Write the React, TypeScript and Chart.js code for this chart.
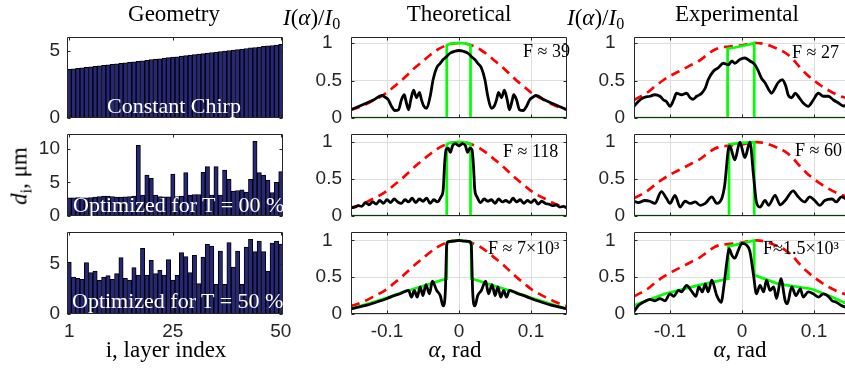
import React, { useEffect, useRef } from 'react';
import { Chart, registerables } from 'chart.js';

Chart.register(...registerables);

// ---------------- data ----------------
const layerIndex = [1,2,3,4,5,6,7,8,9,10,11,12,13,14,15,16,17,18,19,20,21,22,23,24,25,26,27,28,29,30,31,32,33,34,35,36,37,38,39,40,41,42,43,44,45,46,47,48,49,50];
const layerTicks = [1, 25, 50];

const dChirp = [3.60,3.64,3.68,3.71,3.75,3.79,3.83,3.86,3.90,3.94,3.98,4.02,4.05,4.09,4.13,4.17,4.20,4.24,4.28,4.32,4.36,4.39,4.43,4.47,4.51,4.54,4.58,4.62,4.66,4.69,4.73,4.77,4.81,4.85,4.88,4.92,4.96,5.00,5.03,5.07,5.11,5.15,5.19,5.22,5.26,5.30,5.34,5.37,5.41,5.45];
const dT00 = [2.7,2.7,2.75,2.7,2.7,2.75,2.8,2.9,2.95,2.95,2.9,2.8,2.8,2.85,2.9,2.95,10.5,3.1,6.1,5.6,3.1,2.9,2.85,2.85,6.25,2.9,2.95,6.45,3.1,3.2,3.2,6.5,7.35,3.1,7.35,3.1,6.85,5.45,3.7,3.8,3.9,3.55,5.45,11.1,6.45,6.1,5.35,3.5,5.0,6.6];
const dT50 = [5.2,3.7,3.57,3.47,5.13,4.13,4.3,3.37,3.7,3.83,3.47,4.03,5.63,3.57,3.4,4.63,3.9,6.57,3.9,5.37,4.03,4.37,3.9,5.43,3.4,3.87,6.13,5.73,4.13,5.87,3.03,5.7,6.97,6.8,2.97,6.3,2.97,7.13,4.7,6.3,2.97,6.7,7.47,6.23,7.3,6.23,4.3,7.1,7.3,7.0];

const chirpTicks = [0, 5];
const t00Ticks = [0, 5, 10];
const t50Ticks = [0, 5];

const alphaTicks = [-0.1, 0, 0.1];
const intensityTicks = [0, 0.5, 1];

const alphaRed = [-0.15,-0.14,-0.13,-0.12,-0.11,-0.10,-0.09,-0.08,-0.07,-0.06,-0.05,-0.04,-0.03,-0.02,-0.01,0,0.01,0.02,0.03,0.04,0.05,0.06,0.07,0.08,0.09,0.10,0.11,0.12,0.13,0.14,0.15];
const redTheo = [0.11,0.14,0.18,0.23,0.28,0.34,0.42,0.50,0.59,0.68,0.76,0.84,0.91,0.96,0.99,1.00,0.99,0.96,0.91,0.84,0.76,0.68,0.59,0.50,0.42,0.34,0.28,0.23,0.18,0.14,0.11];
const redExp = [0.24,0.29,0.35,0.43,0.50,0.56,0.61,0.66,0.71,0.76,0.83,0.90,0.94,0.95,0.96,0.97,0.99,1.00,0.99,0.96,0.92,0.87,0.79,0.68,0.58,0.50,0.43,0.37,0.32,0.28,0.26];

// theoretical
const alphaGreenT1 = [-0.15,-0.017,-0.017,-0.013,0,0.012,0.016,0.016,0.15];
const greenT1 = [0,0,0.97,0.99,1.0,0.99,0.97,0,0];
const alphaGreenT2 = [-0.15,-0.017,-0.017,-0.013,0,0.012,0.016,0.016,0.15];
const greenT2 = [0,0,0.97,0.99,1.0,0.99,0.97,0,0];
const alphaGreenT3 = [-0.15,-0.12,-0.10,-0.08,-0.06,-0.04,-0.025,-0.017,-0.017,-0.010,0,0.010,0.017,0.017,0.025,0.04,0.06,0.08,0.10,0.12,0.15];
const greenT3 = [0.07,0.16,0.22,0.29,0.35,0.41,0.46,0.48,0.97,0.99,1.0,0.99,0.97,0.48,0.46,0.41,0.35,0.29,0.22,0.16,0.07];

const alphaBlackT1 = [-0.150,-0.133,-0.119,-0.107,-0.103,-0.098,-0.094,-0.089,-0.084,-0.080,-0.076,-0.074,-0.070,-0.067,-0.063,-0.059,-0.055,-0.052,-0.049,-0.045,-0.040,-0.036,-0.031,-0.026,-0.022,-0.017,-0.013,-0.006,0.000,0.006,0.013,0.017,0.022,0.026,0.031,0.036,0.040,0.045,0.049,0.052,0.055,0.059,0.063,0.067,0.070,0.074,0.076,0.080,0.084,0.089,0.094,0.098,0.103,0.107,0.119,0.133,0.150];
const blackT1 = [0.11,0.18,0.24,0.30,0.28,0.24,0.16,0.10,0.11,0.24,0.31,0.24,0.11,0.24,0.37,0.27,0.34,0.24,0.16,0.13,0.29,0.51,0.67,0.73,0.78,0.82,0.86,0.89,0.90,0.89,0.86,0.82,0.78,0.73,0.67,0.51,0.29,0.13,0.16,0.24,0.34,0.27,0.37,0.24,0.11,0.24,0.31,0.24,0.11,0.10,0.16,0.24,0.28,0.30,0.24,0.18,0.11];

const alphaBlackT2 = [-0.150,-0.145,-0.140,-0.135,-0.130,-0.125,-0.120,-0.115,-0.110,-0.105,-0.100,-0.095,-0.090,-0.085,-0.080,-0.075,-0.070,-0.065,-0.060,-0.055,-0.050,-0.045,-0.040,-0.035,-0.030,-0.025,-0.022,-0.020,-0.018,-0.015,-0.012,-0.009,-0.005,0.000,0.005,0.009,0.012,0.015,0.018,0.020,0.022,0.025,0.030,0.035,0.040,0.045,0.050,0.055,0.060,0.065,0.070,0.075,0.080,0.085,0.090,0.095,0.100,0.105,0.110,0.115,0.120,0.125,0.130,0.135,0.140,0.145,0.150];
const blackT2 = [0.11,0.12,0.14,0.13,0.18,0.15,0.19,0.16,0.21,0.17,0.22,0.18,0.23,0.19,0.17,0.22,0.19,0.24,0.18,0.23,0.20,0.24,0.17,0.22,0.19,0.26,0.35,0.70,0.90,0.92,0.86,0.95,0.98,0.95,0.98,0.95,0.86,0.92,0.90,0.70,0.35,0.26,0.18,0.23,0.20,0.22,0.17,0.23,0.19,0.21,0.18,0.24,0.19,0.22,0.17,0.21,0.18,0.22,0.16,0.20,0.17,0.16,0.14,0.15,0.12,0.13,0.11];

const alphaBlackT3 = [-0.150,-0.128,-0.115,-0.100,-0.090,-0.082,-0.070,-0.066,-0.062,-0.058,-0.054,-0.050,-0.046,-0.041,-0.037,-0.031,-0.026,-0.022,-0.019,-0.017,-0.015,-0.008,0.000,0.008,0.015,0.017,0.019,0.022,0.026,0.031,0.037,0.041,0.046,0.050,0.054,0.058,0.062,0.066,0.070,0.082,0.090,0.100,0.115,0.128,0.150];
const blackT3 = [0.07,0.12,0.16,0.21,0.25,0.275,0.32,0.23,0.32,0.23,0.37,0.25,0.40,0.275,0.445,0.32,0.25,0.11,0.30,0.94,0.985,0.99,1.00,0.99,0.985,0.94,0.30,0.11,0.25,0.32,0.445,0.275,0.40,0.25,0.37,0.23,0.32,0.23,0.32,0.275,0.25,0.21,0.16,0.12,0.07];

// experimental
const alphaGreenE1 = [-0.15,-0.020,-0.020,-0.010,0,0.010,0.017,0.017,0.15];
const greenE1 = [0,0,0.925,0.94,0.96,0.98,1.0,0,0];
const alphaGreenE2 = [-0.15,-0.018,-0.018,0,0.017,0.017,0.15];
const greenE2 = [0,0,0.97,0.99,1.0,0,0];
const alphaGreenE3 = [-0.150,-0.107,-0.061,-0.028,-0.019,-0.019,0.000,0.017,0.017,0.050,0.097,0.125,0.150];
const greenE3 = [0.115,0.275,0.39,0.46,0.48,0.92,0.96,1.0,0.53,0.41,0.34,0.23,0.12];

const alphaBlackE1 = [-0.150,-0.144,-0.137,-0.128,-0.121,-0.114,-0.109,-0.105,-0.100,-0.095,-0.091,-0.084,-0.077,-0.072,-0.068,-0.063,-0.056,-0.051,-0.047,-0.040,-0.033,-0.026,-0.019,-0.014,-0.010,-0.003,0.004,0.011,0.018,0.023,0.027,0.032,0.037,0.041,0.046,0.050,0.056,0.061,0.064,0.069,0.074,0.078,0.085,0.092,0.099,0.106,0.113,0.120,0.127,0.134,0.141,0.148];
const blackE1 = [0.156,0.22,0.27,0.29,0.31,0.29,0.24,0.22,0.156,0.24,0.33,0.31,0.33,0.27,0.25,0.29,0.33,0.40,0.51,0.62,0.67,0.73,0.71,0.76,0.73,0.78,0.80,0.76,0.71,0.62,0.53,0.47,0.38,0.33,0.40,0.47,0.51,0.42,0.31,0.27,0.33,0.29,0.20,0.156,0.24,0.33,0.29,0.29,0.24,0.20,0.16,0.18];

const alphaBlackE2 = [-0.150,-0.144,-0.135,-0.128,-0.121,-0.112,-0.105,-0.100,-0.093,-0.086,-0.079,-0.072,-0.065,-0.058,-0.051,-0.042,-0.035,-0.028,-0.024,-0.019,-0.017,-0.010,-0.003,0.004,0.011,0.016,0.020,0.025,0.032,0.037,0.046,0.053,0.060,0.071,0.078,0.087,0.094,0.101,0.108,0.115,0.125,0.131,0.138,0.148];
const blackE2 = [0.20,0.18,0.21,0.20,0.17,0.33,0.24,0.17,0.28,0.12,0.20,0.17,0.19,0.145,0.17,0.26,0.17,0.24,0.42,0.90,0.95,0.76,1.00,0.79,1.00,0.55,0.19,0.12,0.21,0.145,0.28,0.15,0.21,0.34,0.26,0.19,0.26,0.21,0.145,0.21,0.23,0.19,0.26,0.21];

const alphaBlackE3 = [-0.150,-0.144,-0.135,-0.128,-0.121,-0.114,-0.107,-0.100,-0.095,-0.088,-0.084,-0.077,-0.070,-0.064,-0.060,-0.055,-0.051,-0.047,-0.042,-0.035,-0.029,-0.025,-0.021,-0.018,-0.014,-0.010,-0.005,0.000,0.006,0.011,0.016,0.020,0.025,0.030,0.034,0.039,0.044,0.048,0.054,0.060,0.063,0.069,0.075,0.081,0.085,0.092,0.099,0.106,0.113,0.120,0.125,0.131,0.138,0.145];
const blackE3 = [0.03,0.115,0.17,0.20,0.18,0.21,0.18,0.275,0.24,0.32,0.30,0.39,0.31,0.24,0.37,0.30,0.41,0.30,0.46,0.25,0.16,0.39,0.71,0.89,0.80,0.76,0.87,0.96,0.94,0.85,0.53,0.275,0.39,0.30,0.46,0.32,0.37,0.21,0.48,0.18,0.14,0.37,0.25,0.34,0.23,0.30,0.275,0.23,0.275,0.24,0.18,0.16,0.115,0.09];

// ---------------- layout / style ----------------
const SANS = '"Liberation Sans", Arial, sans-serif';
const SERIF = '"Liberation Serif", "Times New Roman", serif';
const AXIS_COLOR = '#262626';
const GRID_COLOR = '#dedede';
const BAR_COLOR = '#272778';
const TICK_FONT = { family: SANS, size: 19 };

const COL_LEFT = [67, 351, 634];
const COL_W = 216;
const ROW_TOP = [37, 134, 232];
const ROW_H = [81, 82, 82];
const LINE_YMAX = [1.08, 1.11, 1.115];

const PAD_L = 60;
const PAD_R = 24;
const PAD_T = 26;
const PAD_B = 26;
const AX_H = 44;

const boxPlugin = {
  id: 'box',
  afterDatasetsDraw(chart: any, _a: any, opts: any) {
    const { ctx, chartArea: a, scales } = chart;
    ctx.save();
    ctx.strokeStyle = AXIS_COLOR;
    ctx.lineWidth = 1;
    const L = Math.round(a.left) + 0.5;
    const R = Math.round(a.right) - 0.5;
    const T = Math.round(a.top) + 0.5;
    const B = Math.round(a.bottom) - 0.5;
    ctx.beginPath();
    ctx.rect(L, T, R - L, B - T);
    const tl = 3;
    (opts.xt || []).forEach((v: number) => {
      const p = Math.round(scales.x.getPixelForValue(v)) + 0.5;
      ctx.moveTo(p, B); ctx.lineTo(p, B - tl);
      ctx.moveTo(p, T); ctx.lineTo(p, T + tl);
    });
    (opts.yt || []).forEach((v: number) => {
      const p = Math.round(scales.y.getPixelForValue(v)) + 0.5;
      ctx.moveTo(L, p); ctx.lineTo(L + tl, p);
      ctx.moveTo(R, p); ctx.lineTo(R - tl, p);
    });
    ctx.stroke();
    ctx.restore();
  },
};

function baseOptions(bottom: boolean) {
  return {
    animation: false,
    responsive: false,
    maintainAspectRatio: false,
    devicePixelRatio: 1,
    events: [],
    layout: { padding: { left: 0, top: PAD_T, right: PAD_R, bottom: bottom ? 0 : PAD_B } },
  };
}

function yScale(max: number, ticks: number[], grid: boolean, pad: number) {
  return {
    type: 'linear',
    min: 0,
    max,
    afterFit: (s: any) => { s.width = PAD_L; },
    afterBuildTicks: (s: any) => { s.ticks = ticks.map((v) => ({ value: v })); },
    ticks: {
      padding: pad,
      font: TICK_FONT,
      color: AXIS_COLOR,
      callback: (v: number) => (grid && v === 1 ? '1\u2002' : String(v)),
    },
    grid: { display: grid, color: GRID_COLOR, lineWidth: 1, drawTicks: false },
    border: { display: false },
  };
}

function barConfig(values: number[], ymax: number, yt: number[], bottom: boolean) {
  return {
    type: 'bar',
    data: {
      labels: layerIndex.map(String),
      datasets: [{
        data: values,
        backgroundColor: BAR_COLOR,
        borderColor: '#000',
        borderWidth: 1,
        borderSkipped: false,
        barPercentage: 1,
        categoryPercentage: 1,
      }],
    },
    options: {
      ...baseOptions(bottom),
      plugins: {
        legend: { display: false },
        tooltip: { enabled: false },
        box: { xt: layerTicks.map((t) => layerIndex.indexOf(t)), yt },
      },
      scales: {
        x: {
          type: 'category',
          offset: true,
          afterFit: (s: any) => { s.height = bottom ? AX_H : 0; },
          ticks: {
            display: bottom,
            autoSkip: false,
            maxRotation: 0,
            minRotation: 0,
            padding: 6,
            font: TICK_FONT,
            color: AXIS_COLOR,
            callback: (_v: any, i: number) => (layerTicks.includes(layerIndex[i]) ? String(layerIndex[i]) : ''),
          },
          grid: { display: false, drawTicks: false },
          border: { display: false },
        },
        y: yScale(ymax, yt, false, 7),
      },
    },
    plugins: [boxPlugin],
  };
}

const pts = (xs: number[], ys: number[]) => xs.map((x, i) => ({ x, y: ys[i] }));

function lineConfig(
  black: [number[], number[]],
  green: [number[], number[]],
  red: [number[], number[]],
  ymax: number,
  bottom: boolean,
) {
  return {
    type: 'line',
    data: {
      datasets: [
        { data: pts(black[0], black[1]), borderColor: '#000000', borderWidth: 2.8, pointRadius: 0, cubicInterpolationMode: 'monotone', fill: false },
        { data: pts(green[0], green[1]), borderColor: '#00ff00', borderWidth: 2.7, pointRadius: 0, tension: 0, fill: false },
        { data: pts(red[0], red[1]), borderColor: '#ff0000', borderWidth: 2.7, borderDash: [9, 6], pointRadius: 0, cubicInterpolationMode: 'monotone', fill: false },
      ],
    },
    options: {
      ...baseOptions(bottom),
      plugins: {
        legend: { display: false },
        tooltip: { enabled: false },
        box: { xt: alphaTicks, yt: intensityTicks },
      },
      scales: {
        x: {
          type: 'linear',
          min: -0.15,
          max: 0.15,
          afterFit: (s: any) => { s.height = bottom ? AX_H : 0; },
          afterBuildTicks: (s: any) => { s.ticks = alphaTicks.map((v) => ({ value: v })); },
          ticks: {
            display: bottom,
            maxRotation: 0,
            padding: 6,
            font: TICK_FONT,
            color: AXIS_COLOR,
            callback: (v: number) => String(v),
          },
          grid: { color: GRID_COLOR, lineWidth: 1, drawTicks: false },
          border: { display: false },
        },
        y: yScale(ymax, intensityTicks, true, 9),
      },
    },
    plugins: [boxPlugin],
  };
}

function ChartBox({ col, row, config }: { col: number; row: number; config: any }) {
  const ref = useRef<HTMLCanvasElement>(null);
  const bottom = row === 2;
  const w = COL_W + PAD_L + PAD_R;
  const h = ROW_H[row] + PAD_T + (bottom ? AX_H : PAD_B);
  useEffect(() => {
    const chart = new Chart(ref.current as HTMLCanvasElement, config as any);
    return () => chart.destroy();
  }, []);
  return (
    <canvas
      ref={ref}
      width={w}
      height={h}
      style={{ position: 'absolute', left: COL_LEFT[col] - PAD_L, top: ROW_TOP[row] - PAD_T, width: w, height: h }}
    />
  );
}

function Txt({ x, y, size, align = 'left', color = '#000', family = SERIF, children }: any) {
  const tx = align === 'center' ? '-50%' : align === 'right' ? '-100%' : '0';
  return (
    <div
      style={{
        position: 'absolute', left: x, top: y - 0.84 * size, fontSize: size, lineHeight: `${size}px`,
        fontFamily: family, color, whiteSpace: 'nowrap', transform: `translateX(${tx})`,
      }}
    >
      {children}
    </div>
  );
}

const Sub = ({ children }: any) => (
  <span style={{ fontSize: '0.7em', position: 'relative', top: '0.28em' }}>{children}</span>
);

const IoverI0 = () => (
  <>
    <i>I</i>(<i>α</i>)/<i>I</i><Sub>0</Sub>
  </>
);

export default function App() {
  const panels = [
    { col: 0, row: 0, config: barConfig(dChirp, 6, chirpTicks, false) },
    { col: 0, row: 1, config: barConfig(dT00, 12.2, t00Ticks, false) },
    { col: 0, row: 2, config: barConfig(dT50, 8.2, t50Ticks, true) },
    { col: 1, row: 0, config: lineConfig([alphaBlackT1, blackT1], [alphaGreenT1, greenT1], [alphaRed, redTheo], LINE_YMAX[0], false) },
    { col: 1, row: 1, config: lineConfig([alphaBlackT2, blackT2], [alphaGreenT2, greenT2], [alphaRed, redTheo], LINE_YMAX[1], false) },
    { col: 1, row: 2, config: lineConfig([alphaBlackT3, blackT3], [alphaGreenT3, greenT3], [alphaRed, redTheo], LINE_YMAX[2], true) },
    { col: 2, row: 0, config: lineConfig([alphaBlackE1, blackE1], [alphaGreenE1, greenE1], [alphaRed, redExp], LINE_YMAX[0], false) },
    { col: 2, row: 1, config: lineConfig([alphaBlackE2, blackE2], [alphaGreenE2, greenE2], [alphaRed, redExp], LINE_YMAX[1], false) },
    { col: 2, row: 2, config: lineConfig([alphaBlackE3, blackE3], [alphaGreenE3, greenE3], [alphaRed, redExp], LINE_YMAX[2], true) },
  ];
  return (
    <div style={{ position: 'absolute', left: 0, top: 0, width: 845, height: 369, overflow: 'hidden', background: '#fff' }}>
      {panels.map((p) => (
        <ChartBox key={`${p.col}-${p.row}`} col={p.col} row={p.row} config={p.config} />
      ))}

      <Txt x={174} y={21} size={23} align="center">Geometry</Txt>
      <Txt x={459} y={21} size={23} align="center">Theoretical</Txt>
      <Txt x={737} y={21} size={23} align="center">Experimental</Txt>
      <Txt x={283} y={25} size={23}><IoverI0 /></Txt>
      <Txt x={567} y={25} size={23}><IoverI0 /></Txt>

      <div
        style={{
          position: 'absolute', left: 20, top: 176, fontSize: 23, lineHeight: '23px', fontFamily: SERIF,
          whiteSpace: 'nowrap', transform: 'translate(-50%, -50%) rotate(-90deg)', color: '#000',
        }}
      >
        <i>d</i><Sub>i</Sub>, μm
      </div>

      <Txt x={166} y={357} size={23} align="center">i, layer index</Txt>
      <Txt x={455} y={357} size={23} align="center"><i>α</i>, rad</Txt>
      <Txt x={740} y={357} size={23} align="center"><i>α</i>, rad</Txt>

      <Txt x={174} y={113} size={22} align="center" color="#fff">Constant Chirp</Txt>
      <Txt x={73} y={212} size={22} color="#fff">Optimized for T = 00 %</Txt>
      <Txt x={72} y={308} size={22} color="#fff">Optimized for T = 50 %</Txt>

      <Txt x={523} y={57} size={18}>F ≈ 39</Txt>
      <Txt x={503} y={157} size={18}>F ≈ 118</Txt>
      <Txt x={488} y={254} size={18}>F ≈ 7×10³</Txt>
      <Txt x={792} y={58} size={18}>F ≈ 27</Txt>
      <Txt x={795} y={156} size={18}>F ≈ 60</Txt>
      <Txt x={763} y={254} size={18}>F≈1.5×10³</Txt>
    </div>
  );
}
